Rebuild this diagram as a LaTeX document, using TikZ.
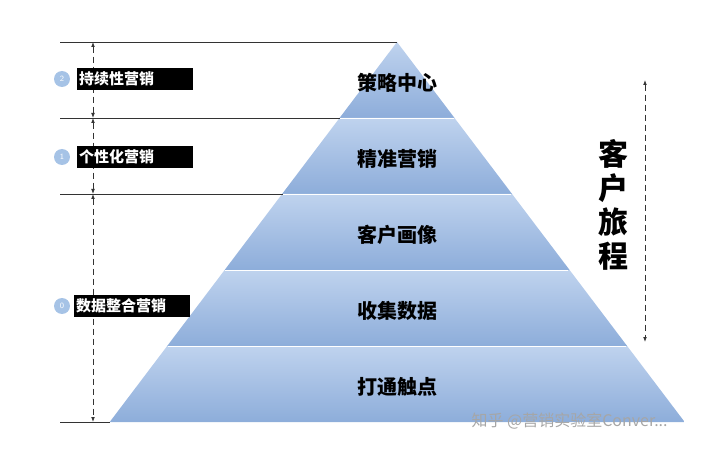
\documentclass[tikz,border=0pt]{standalone}
\usepackage{fontspec}
\newfontfamily\cjk{Noto Sans CJK SC}
\usetikzlibrary{arrows.meta}
\definecolor{laytop}{HTML}{BFD3EE}
\definecolor{laybot}{HTML}{8DADDA}
\definecolor{numblue}{HTML}{A6C3E6}
\begin{document}
\begin{tikzpicture}[x=1pt,y=-1pt]
\tikzstyle{layer}=[top color=laytop,bottom color=laybot];
\tikzstyle{lname}=[font=\cjk\bfseries\fontsize{20}{20}\selectfont];
\tikzstyle{tag}=[fill=black,text=white,font=\cjk\bfseries\fontsize{15}{15}\selectfont,minimum width=116pt,minimum height=22pt,inner sep=1pt,text width=112pt,align=left];
\tikzstyle{num}=[circle,fill=numblue,text=white,minimum size=16pt,inner sep=0pt,font=\sffamily\fontsize{8}{8}\selectfont];
\tikzstyle{span}=[dash pattern=on 6pt off 4pt,gray!40!black,thick,{Latex[length=5pt]}-{Latex[length=5pt]}];
\tikzstyle{rule}=[gray!40!black,thick];
\useasboundingbox (0,0) rectangle (720,449);
% pyramid layers
\foreach \t/\txt [count=\i] in {42/策略中心,118/精准营销,194/客户画像,270/收集数据,346/打通触点}{
  \pgfmathsetmacro\b{\t+76}
  \pgfmathsetmacro\lt{397-0.756*(\t-42)}
  \pgfmathsetmacro\rt{397+0.757*(\t-42)}
  \pgfmathsetmacro\lb{397-0.756*(\b-42)}
  \pgfmathsetmacro\rb{397+0.757*(\b-42)}
  \shade [layer] (\lt,\t) -- (\rt,\t) -- (\rb,\b) -- (\lb,\b) -- cycle;
  \node [lname] (l\i) at (397,\t+41) {\txt};
}
\draw [white,thick] (340,118) -- (454,118) (283,194) -- (511,194) (225,270) -- (568,270) (168,346) -- (626,346);
% guide lines
\coordinate (g1) at (93,42);
\coordinate (g2) at (93,118);
\coordinate (g3) at (93,194);
\coordinate (g4) at (93,422);
\draw [rule] (60,42) -- (397,42);
\draw [rule] (60,118) -- (340,118);
\draw [rule] (60,194) -- (283,194);
\draw [rule] (60,422) -- (110,422);
\draw [span] (g1) -- (g2);
\draw [span] (g2) -- (g3);
\draw [span] (g3) -- (g4);
% tags
\node [tag] (t2) at (135,79) {持续性营销};
\node [num] (n2) at (62,79) {2};
\node [tag] (t1) at (135,157) {个性化营销};
\node [num] (n1) at (62,157) {1};
\node [tag] (t0) at (132,306) {数据整合营销};
\node [num] (n0) at (62,306) {0};
% journey
\coordinate (j1) at (645,80);
\coordinate (j2) at (645,342);
\draw [span] (j1) -- (j2);
\node [font=\cjk\bfseries\fontsize{30}{34}\selectfont,align=center] (jt) at (613,205) {客\\户\\旅\\程};
\node [font=\cjk\fontsize{16}{16}\selectfont,text=gray!70,anchor=west] (wm) at (468,421) {知乎 @营销实验室Conver...};
\end{tikzpicture}
\end{document}
